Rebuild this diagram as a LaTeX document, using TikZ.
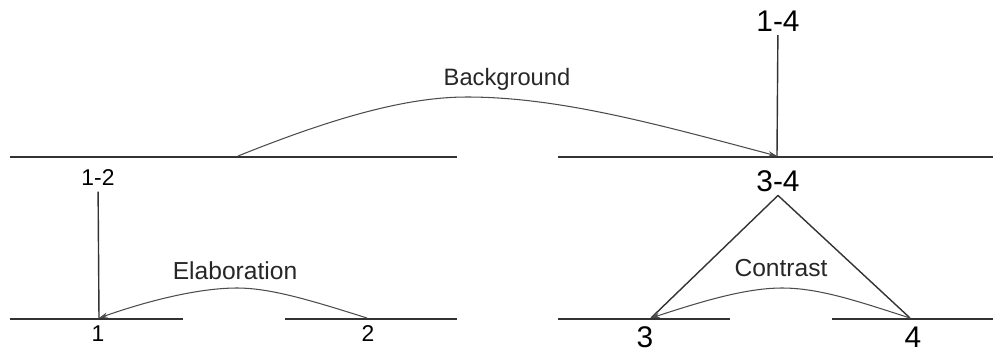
\documentclass[tikz,border=0pt]{standalone}
\usepackage{fontspec}
\setmainfont{Liberation Sans}
\usetikzlibrary{arrows.meta}
\definecolor{linegray}{gray}{0.2}
\definecolor{arcgray}{gray}{0.3}

\begin{document}
\begin{tikzpicture}[x=0.02cm, y=-0.02cm,
  base/.style={line width=1.6pt, color=linegray},
  link/.style={line width=0.8pt, color=linegray},
  arc/.style={line width=0.6pt, color=arcgray},
  tip/.style={-{Stealth[length=5pt, width=3pt]}},
  rel/.style={font=\fontsize{14pt}{16pt}\selectfont, text=black!85},
  big/.style={font=\fontsize{17pt}{19pt}\selectfont, inner sep=2pt},
  small/.style={font=\fontsize{13pt}{15pt}\selectfont, inner sep=2pt}
]
  \useasboundingbox (0,0) rectangle (995,353);

  % baselines
  \draw[base] (10,157) -- (457,157);
  \draw[base] (558,157) -- (993,157);
  \draw[base] (10,319) -- (183,319);
  \draw[base] (285,319) -- (457,319);
  \draw[base] (558,319) -- (730,319);
  \draw[base] (832,319) -- (993,319);

  % attachment points
  \coordinate (a1)  at (99,318);
  \coordinate (a2)  at (367,318);
  \coordinate (a3)  at (651,318);
  \coordinate (a4)  at (910,318);
  \coordinate (a12) at (238,156);
  \coordinate (a34) at (777,156);

  % span labels
  \node[small, inner sep=3pt] (n12) at (98,178) {1-2};
  \node[big] (n14) at (778,21) {1-4};
  \node[big] (n34) at (778,181) {3-4};
  \node[small] (n1) at (98,334) {1};
  \node[small] (n2) at (368,334) {2};
  \node[big] (n3) at (645,337) {3};
  \node[big] (n4) at (913,337) {4};

  % relation labels
  \node[rel, font=\fontsize{13.5pt}{15pt}\selectfont] (bg) at (507,79) {Background};
  \node[rel] (el) at (235,271) {Elaboration};
  \node[rel] (co) at (781,268) {Contrast};

  % tree lines
  \draw[link] (n12) -- (a1);
  \draw[link] (n14) -- (a34);
  \draw[link] (n34.south) -- (a3);
  \draw[link] (n34.south) -- (a4);

  % relation arcs
  \draw[arc, tip] (a12) .. controls (340,115) and (410,97) .. (467,97)
    .. controls (560,97) and (660,125) .. (a34);
  \draw[arc, tip] (a2) .. controls (310,300) and (270,288) .. (237,288)
    .. controls (200,288) and (150,300) .. (a1);
  \draw[arc, tip, {Stealth[length=5pt, width=3pt]}-] (a3) .. controls (700,302) and (745,288) .. (782,288)
    .. controls (820,288) and (860,302) .. (a4);
\end{tikzpicture}
\end{document}
